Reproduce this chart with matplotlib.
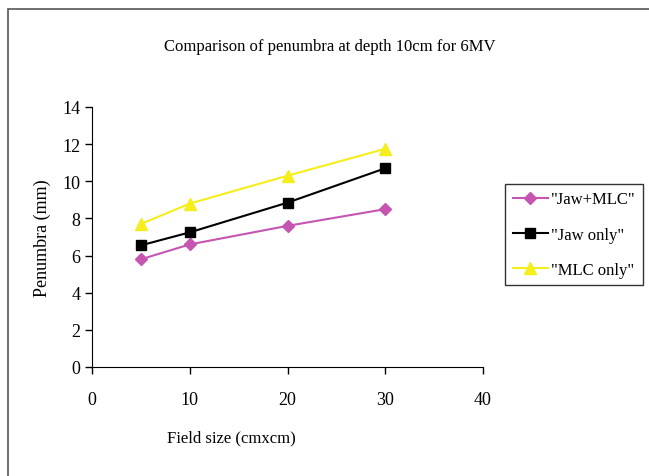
import matplotlib.pyplot as plt
from matplotlib.patches import Rectangle

plt.rcParams['font.family'] = ['Liberation Serif', 'DejaVu Serif']

# data
field_size = [5, 10, 20, 30]
jaw_mlc = [5.8, 6.6, 7.6, 8.5]
jaw_only = [6.55, 7.25, 8.85, 10.7]
mlc_only = [7.7, 8.8, 10.3, 11.75]

fig = plt.figure(figsize=(6.49, 4.77), dpi=100)
W, H = 649, 477
ax = fig.add_axes([92 / W, 1 - 368 / H, (483 - 92) / W, (368 - 108) / H])

ax.plot(field_size, jaw_mlc, color='#c555b0', marker='D', markersize=6, lw=1.5, label='"Jaw+MLC"')
ax.plot(field_size, jaw_only, color='black', marker='s', markersize=7, lw=1.5, label='"Jaw only"')
ax.plot(field_size, mlc_only, color='#f5ee1a', marker='^', markersize=8, lw=1.5, label='"MLC only"')

ax.set_xlim(0, 40)
ax.set_ylim(0, 14)
ax.set_xticks([0, 10, 20, 30, 40])
ax.set_yticks(range(0, 15, 2))
ax.spines['top'].set_visible(False)
ax.spines['right'].set_visible(False)
ax.tick_params(direction='out', length=5, labelsize=13, width=1)
ax.tick_params(axis='x', pad=12)

ax.set_ylabel('Penumbra (mm)', fontsize=13, labelpad=8)
fig.text(231 / W, 1 - 438 / H, 'Field size (cmxcm)', ha='center', va='center', fontsize=12)
fig.text(330 / W, 1 - 47 / H, 'Comparison of penumbra at depth 10cm for 6MV',
         ha='center', va='center', fontsize=12)

leg = fig.legend(loc='upper left', bbox_to_anchor=(505 / W, 1 - 185 / H), fontsize=12,
                 frameon=True, fancybox=False, edgecolor='black', borderpad=0.45,
                 handlelength=2.1, labelspacing=1.15, handletextpad=0.2, borderaxespad=0)
leg.get_frame().set_linewidth(1.0)

# outer chart border
fig.add_artist(Rectangle((8 / W, -0.1), 1.0, 1 - 10 / H + 0.1, transform=fig.transFigure,
                         fill=False, edgecolor='#555555', lw=1.2))

fig.savefig('out.png', dpi=100)
